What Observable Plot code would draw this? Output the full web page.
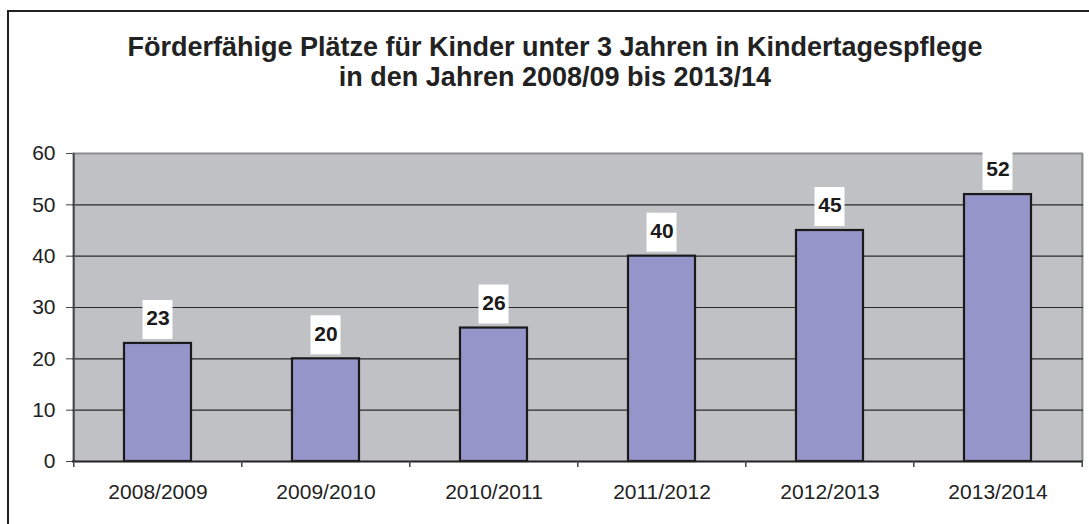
<!DOCTYPE html>
<html>
<head>
<meta charset="utf-8">
<script src="https://cdn.jsdelivr.net/npm/d3@7"></script>
<script src="https://cdn.jsdelivr.net/npm/@observablehq/plot@0.6"></script>
<style>
  html, body { margin: 0; padding: 0; background: #fff; }
  #wrap { position: relative; width: 1089px; height: 524px; overflow: hidden; font-family: "Liberation Sans", Arial, sans-serif; }
  #border { position: absolute; left: 7px; top: 10px; width: 1100px; height: 600px; border: 2px solid #222; box-sizing: border-box; }
  #title { position: absolute; left: 0; top: 32px; width: 1110px; text-align: center; font-weight: bold; font-size: 27px; line-height: 30px; color: #222; }
  #chart { position: absolute; left: 0; top: 0; }
</style>
</head>
<body>
<div id="wrap">
  <div id="border"></div>
  <div id="title">Förderfähige Plätze für Kinder unter 3 Jahren in Kindertagespflege<br>in den Jahren 2008/09 bis 2013/14</div>
  <div id="chart"></div>
</div>
<script>
const years = ["2008/2009", "2009/2010", "2010/2011", "2011/2012", "2012/2013", "2013/2014"];
const places = [23, 20, 26, 40, 45, 52];
const yTicks = [0, 10, 20, 30, 40, 50, 60];
const gridValues = [10, 20, 30, 40, 50];

const data = years.map((y, i) => ({year: y, value: places[i]}));

const width = 1089, height = 524;
const marginLeft = 72, marginRight = 6, marginTop = 153, marginBottom = 63;
const step = (width - marginLeft - marginRight) / years.length;

const chart = Plot.plot({
  width, height, marginLeft, marginRight, marginTop, marginBottom,
  style: {fontFamily: "'Liberation Sans', Arial, sans-serif", fontSize: "21px", color: "#222", background: "transparent"},
  x: {type: "band", domain: years, paddingInner: 0.6, paddingOuter: 0.3, label: null},
  y: {domain: [0, 60], label: null},
  marks: [
    Plot.frame({fill: "#c0c1c5", stroke: "none"}),
    Plot.ruleY([60], {stroke: "#8c8c8c", strokeWidth: 2}),
    Plot.ruleX(years.slice(-1), {x: d => d, dx: step / 2, y1: 0, y2: 60, stroke: "#8c8c8c", strokeWidth: 2}),
    Plot.ruleY(gridValues, {stroke: "#2a2a2a", strokeWidth: 1.2}),
    Plot.barY(data, {x: "year", y: "value", fill: "#9595c9", stroke: "#1a1a1a", strokeWidth: 2.2}),
    Plot.barY(data, {x: "year", y1: "value", y2: "value", fill: "white", insetTop: -43, insetBottom: 4, insetLeft: 18.5, insetRight: 18.5}),
    Plot.text(data, {x: "year", y: "value", text: d => String(d.value), dy: -25, fontWeight: "bold", fontSize: 21, fill: "#1a1a1a"}),
    Plot.ruleX([0], {x: () => years[0], dx: -step / 2, y1: 0, y2: 60, stroke: "#444", strokeWidth: 2}),
    Plot.ruleY([0], {stroke: "#222", strokeWidth: 2}),
    Plot.ruleX(years, {x: d => d, dx: -step / 2, y1: 0, y2: 0, insetBottom: -6, stroke: "#444", strokeWidth: 1.5}),
    Plot.ruleX(years.slice(-1), {x: d => d, dx: step / 2, y1: 0, y2: 0, insetBottom: -6, stroke: "#444", strokeWidth: 1.5}),
    Plot.axisX({tickSize: 0, tickPadding: 23, fontSize: 21, fill: "#222"}),
    Plot.axisY({ticks: yTicks, tickSize: 6, tickPadding: 11, fontSize: 21, stroke: "#444", fill: "#222", tickFormat: d => String(d)})
  ]
});
document.getElementById("chart").appendChild(chart);
</script>
</body>
</html>
